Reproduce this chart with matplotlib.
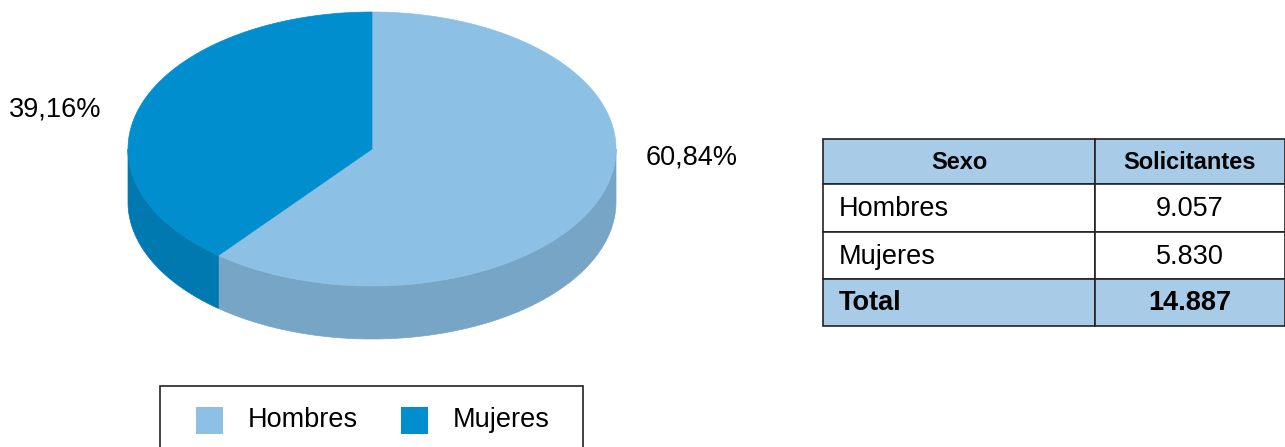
import numpy as np
import matplotlib.pyplot as plt
from matplotlib.patches import Polygon, Rectangle

plt.rcParams['font.family'] = ['Liberation Sans', 'DejaVu Sans']

# datos
categorias = ['Hombres', 'Mujeres']
solicitantes = [9057, 5830]
colores_top = ['#8CC0E4', '#008ECE']
colores_lado = ['#77A5C5', '#0078B0']
columnas = ['Sexo', 'Solicitantes']


def fmt_miles(v):
    return f'{v:,}'.replace(',', '.')


def fmt_pct(p):
    return f'{p:.2f}'.replace('.', ',') + '%'


fig = plt.figure(figsize=(12.85, 4.47), dpi=100)
ax = fig.add_axes([0, 0, 1, 1])
ax.set_xlim(0, 1285)
ax.set_ylim(447, 0)
ax.axis('off')

# geometría de la tarta 3D
cx, cy, rx, ry, depth = 372, 149, 244, 137, 53
total = sum(solicitantes)
fracs = np.array(solicitantes) / total
fs = 19.5


def arc(t0, t1, dy=0, n=200):
    t = np.radians(np.linspace(t0, t1, n))
    return np.column_stack((cx + rx * np.cos(t), cy - ry * np.sin(t) + dy))


# ángulos: desde arriba en sentido horario
angulos = []
a = 90.0
for f in fracs:
    angulos.append((a - 360 * f, a))
    a -= 360 * f

# caras laterales (solo la parte delantera)
for (a0, a1), col in zip(angulos, colores_lado):
    for k in (-1, 0, 1):
        lo = max(a0, -180 + 360 * k)
        hi = min(a1, 360 * k)
        if lo < hi:
            top = arc(lo, hi)
            bot = arc(hi, lo, dy=depth)
            ax.add_patch(Polygon(np.vstack((top, bot)), closed=True,
                                 facecolor=col, edgecolor=col, lw=0.5))

# caras superiores
for (a0, a1), col in zip(angulos, colores_top):
    pts = np.vstack(([[cx, cy]], arc(a0, a1)))
    ax.add_patch(Polygon(pts, closed=True, facecolor=col, edgecolor=col, lw=0.5))

# etiquetas de porcentaje
ax.text(646, 158, fmt_pct(fracs[0] * 100), fontsize=fs, va='center', ha='left')
ax.text(9, 110, fmt_pct(fracs[1] * 100), fontsize=fs, va='center', ha='left')

# leyenda
ax.add_patch(Rectangle((160, 386), 423, 70, facecolor='white',
                       edgecolor='#222222', lw=1.2, clip_on=False))
for i, (cat, col) in enumerate(zip(categorias, colores_top)):
    x0 = 196 + i * 205
    ax.add_patch(Rectangle((x0, 407), 27, 27, facecolor=col, edgecolor='none'))
    ax.text(x0 + 52, 420, cat, fontsize=fs, va='center', ha='left')

# tabla
x_cols = [823, 1095, 1285]
y_rows = [139, 184, 232, 279, 326]
filas = [columnas] + [[c, fmt_miles(v)] for c, v in zip(categorias, solicitantes)] \
    + [['Total', fmt_miles(total)]]
cabecera = '#A8CCE8'
for r, fila in enumerate(filas):
    y0, y1 = y_rows[r], y_rows[r + 1]
    negrita = r == 0 or r == len(filas) - 1
    fondo = cabecera if negrita else 'white'
    for c, texto in enumerate(fila):
        x0, x1 = x_cols[c], x_cols[c + 1]
        ax.add_patch(Rectangle((x0, y0), x1 - x0, y1 - y0, facecolor=fondo,
                               edgecolor='#222222', lw=1.2, clip_on=False))
        if c == 0 and r > 0:
            ax.text(x0 + 16, (y0 + y1) / 2 + 1, texto, fontsize=fs,
                    fontweight='bold' if negrita else 'normal', va='center', ha='left')
        else:
            ax.text((x0 + x1) / 2, (y0 + y1) / 2 + 1, texto,
                    fontsize=17 if r == 0 else fs,
                    fontweight='bold' if negrita else 'normal', va='center', ha='center')

fig.savefig('out.png', dpi=100)
